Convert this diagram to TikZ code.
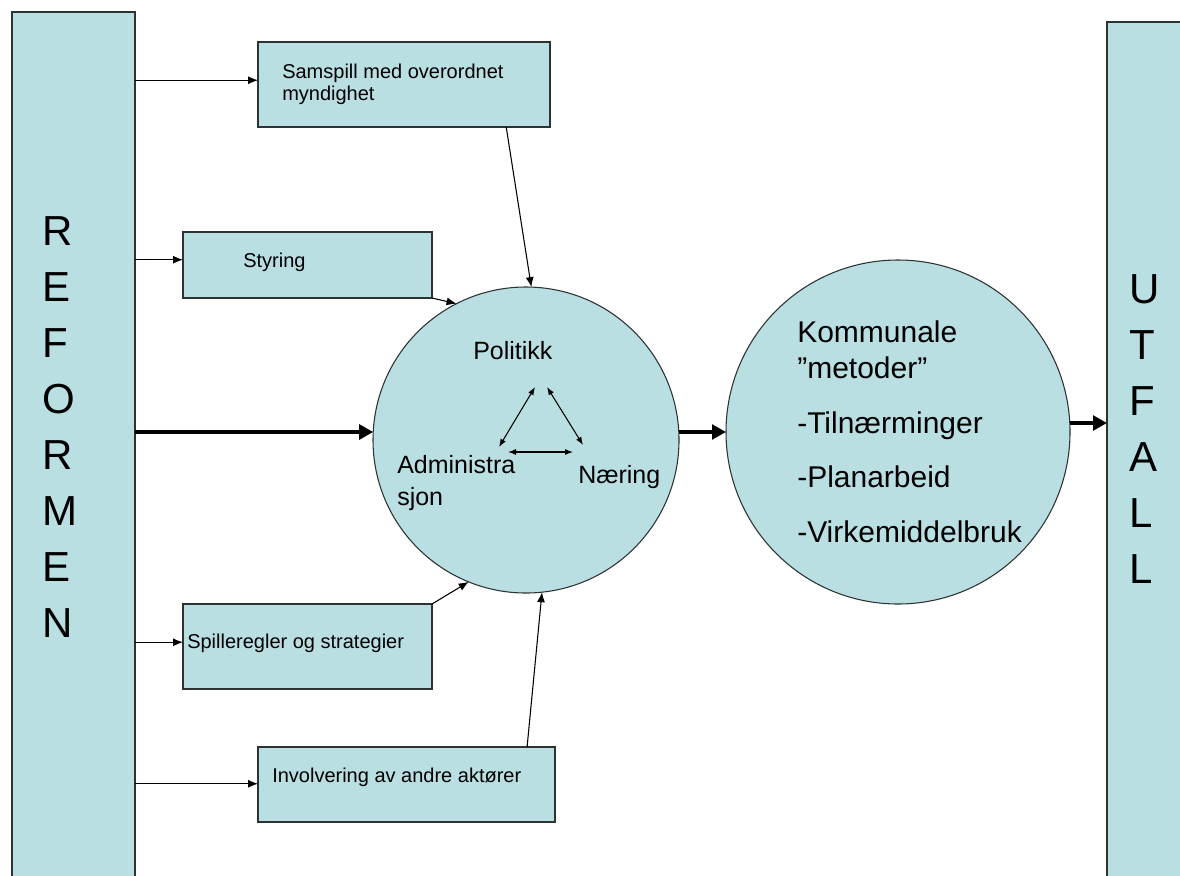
\documentclass[tikz,border=0pt]{standalone}
\usepackage{fontspec}
\setmainfont{Liberation Sans}
\usetikzlibrary{arrows.meta,calc}
\definecolor{boxfill}{RGB}{185,223,226}
\definecolor{edgecol}{RGB}{45,50,50}
\begin{document}
\begin{tikzpicture}[x=0.75pt,y=-0.75pt,
  box/.style={draw=edgecol, fill=boxfill, line width=0.9pt, inner sep=0pt, outer sep=0pt, rectangle, anchor=north west},
  circ/.style={draw=edgecol, fill=boxfill, line width=0.8pt, circle, inner sep=0pt, outer sep=0pt},
  arr/.style={-{Latex[length=7.5pt,width=6pt]}, line width=0.8pt, black},
  fatarr/.style={-{Triangle[length=10.5pt,width=11pt]}, line width=3.4pt, black},
  dbl/.style={{Latex[length=6pt,width=4.5pt]}-{Latex[length=6pt,width=4.5pt]}, line width=0.8pt, black},
  small/.style={font=\fontsize{15pt}{16.5pt}\selectfont, inner sep=0pt, anchor=base west, align=left},
  mid/.style={font=\fontsize{18.75pt}{24pt}\selectfont, inner sep=0pt, anchor=base west, align=left},
  big/.style={font=\fontsize{22.5pt}{27pt}\selectfont, inner sep=0pt, anchor=base west},
  tall/.style={font=\fontsize{31.5pt}{42pt}\selectfont, inner sep=0pt, anchor=base west, align=left}]
\useasboundingbox[fill=white] (0,0) rectangle (1180,875);

% side bars
\node[box, minimum width=92.25pt, minimum height=651.75pt] (reformen) at (12,12) {};
\node[box, minimum width=58.5pt, minimum height=641.25pt] (utfall) at (1107,22) {};
% multi-line nodes: base anchor = baseline of last line
\node[tall] (reftxt) at (42,637) {R\\E\\F\\O\\R\\M\\E\\N};
\node[tall] (utftxt) at (1129,583) {U\\T\\F\\A\\L\\L};

% boxes
\node[box, minimum width=219pt, minimum height=63.75pt] (samspill) at (258,42) {};
\node[box, minimum width=186.75pt, minimum height=49.5pt] (styring) at (183,232) {};
\node[box, minimum width=186.75pt, minimum height=63.75pt] (spill) at (183,604) {};
\node[box, minimum width=222.75pt, minimum height=56.25pt] (invol) at (258,747) {};
\node[small] (samtxt) at (282,100) {Samspill med overordnet\\myndighet};
\node[small] (stytxt) at (243,267) {Styring};
\node[small] (spitxt) at (187,648) {Spilleregler og strategier};
\node[small] (invtxt) at (272,782) {Involvering av andre aktører};

% circles
\node[circ, minimum size=229.5pt] (c1) at (526,440) {};
\node[circ, minimum size=258pt] (c2) at (898,432) {};

\node[mid] (pol) at (473,359) {Politikk};
\node[mid] (adm) at (397,505) {Administra\\sjon};
\node[mid] (naer) at (578,483) {Næring};

\node[big] (k1) at (797,342) {Kommunale};
\node[big] (k2) at (797,378) {”metoder”};
\node[big] (k3) at (797,433) {-Tilnærminger};
\node[big] (k4) at (797,487) {-Planarbeid};
\node[big] (k5) at (797,542) {-Virkemiddelbruk};

% inner triangle
\coordinate (t1a) at (535,387);
\coordinate (t1b) at (499,447);
\coordinate (t2a) at (547,387);
\coordinate (t2b) at (583,445);
\coordinate (t3a) at (508,452);
\coordinate (t3b) at (573,452);
\draw[dbl] (t1a) -- (t1b);
\draw[dbl] (t2a) -- (t2b);
\draw[dbl] (t3a) -- (t3b);

% arrows from REFORMEN
\draw[arr] (reformen.east |- {$(samspill.north west)!0.45!(samspill.south west)$}) -- ($(samspill.north west)!0.45!(samspill.south west)$);
\draw[arr] (reformen.east |- {$(styring.north west)!0.42!(styring.south west)$}) -- ($(styring.north west)!0.42!(styring.south west)$);
\draw[arr] (reformen.east |- {$(spill.north west)!0.45!(spill.south west)$}) -- ($(spill.north west)!0.45!(spill.south west)$);
\draw[arr] (reformen.east |- {$(invol.north west)!0.49!(invol.south west)$}) -- ($(invol.north west)!0.49!(invol.south west)$);
\draw[fatarr] (reformen.east |- c1.177) -- (c1.177);

% arrows into circle 1
\draw[arr] ($(samspill.south west)!0.85!(samspill.south east)$) -- (c1.88);
\draw[arr] (styring.south east) -- (c1.117);
\draw[arr] (spill.north east) -- (c1.248);
\draw[arr] ($(invol.north west)!0.906!(invol.north east)$) -- (c1.276);

% main flow
\draw[fatarr] (c1.3) -- (c2.west |- c1.3);
\draw[fatarr] (c2.3) -- (utfall.west |- c2.3);
\end{tikzpicture}
\end{document}
